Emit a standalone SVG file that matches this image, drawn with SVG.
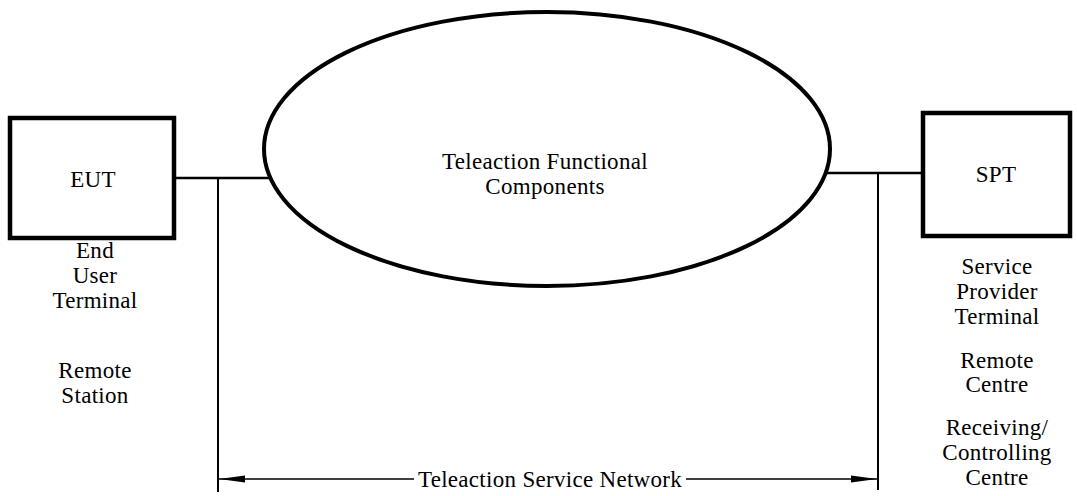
<svg xmlns="http://www.w3.org/2000/svg" width="1077" height="496" viewBox="0 0 1077 496">
<style>
text{font-family:"Liberation Serif","Times New Roman",serif;font-size:23px;letter-spacing:0.3px;fill:#000;text-anchor:middle}
.box{fill:none;stroke:#000;stroke-width:4.5}
.ell{fill:none;stroke:#000;stroke-width:4}
.conn{stroke:#000;stroke-width:2.5;fill:none}
.thin{stroke:#000;stroke-width:2;fill:none}
.arr{stroke:#000;stroke-width:1.6;fill:none}
</style>
<defs>
<marker id="ah" markerWidth="26" markerHeight="10" refX="26" refY="5" orient="auto" markerUnits="userSpaceOnUse">
<path d="M0,1.5 L26,5 L0,8.5 Z" fill="#000"/>
</marker>
</defs>
<rect width="1077" height="496" fill="#fff"/>
<g id="connectors">
<line class="conn" x1="174" y1="178" x2="270" y2="178"/>
<line class="conn" x1="826" y1="173" x2="922" y2="173"/>
<line class="thin" x1="218" y1="178" x2="218" y2="492"/>
<line class="thin" x1="878" y1="173" x2="878" y2="490"/>
<line class="arr" x1="414" y1="479" x2="219" y2="479" marker-end="url(#ah)"/>
<line class="arr" x1="686" y1="479" x2="877" y2="479" marker-end="url(#ah)"/>
<text x="550" y="487">Teleaction Service Network</text>
</g>
<g id="eut">
<rect class="box" x="10" y="118" width="164" height="120"/>
<text x="93" y="187">EUT</text>
<text x="95" y="258">End</text>
<text x="95" y="283">User</text>
<text x="95" y="308">Terminal</text>
<text x="95" y="378">Remote</text>
<text x="95" y="403">Station</text>
</g>
<g id="tfc">
<ellipse class="ell" cx="547" cy="149" rx="283" ry="137"/>
<text x="545" y="169">Teleaction Functional</text>
<text x="545" y="194">Components</text>
</g>
<g id="spt">
<rect class="box" x="923" y="113" width="147" height="123"/>
<text x="996" y="182">SPT</text>
<text x="997" y="274">Service</text>
<text x="997" y="299">Provider</text>
<text x="997" y="324">Terminal</text>
<text x="997" y="368">Remote</text>
<text x="997" y="392">Centre</text>
<text x="997" y="435">Receiving/</text>
<text x="997" y="460">Controlling</text>
<text x="997" y="485">Centre</text>
</g>
</svg>
